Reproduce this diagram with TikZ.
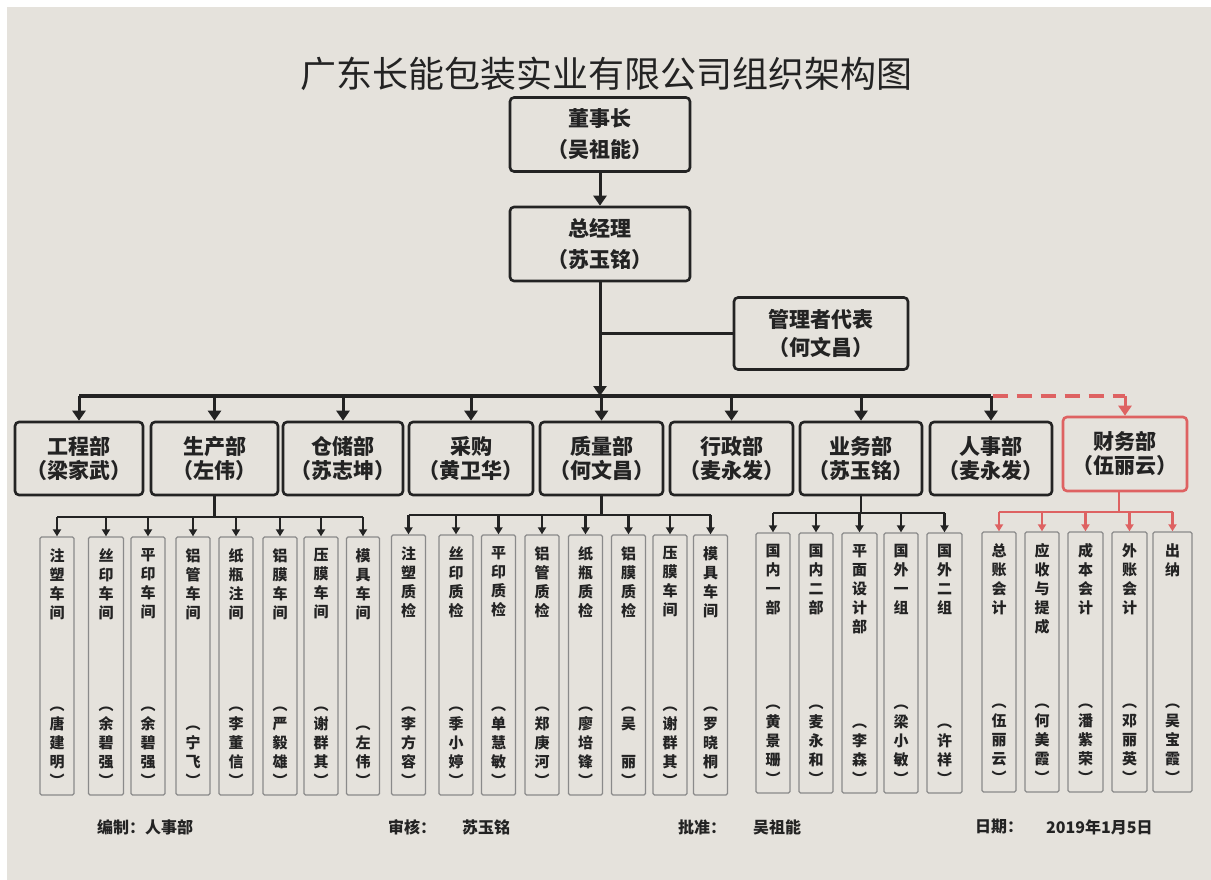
\documentclass[tikz,border=0pt]{standalone}
\usepackage{fontspec}
\setmainfont{Noto Sans CJK SC}
\usetikzlibrary{arrows.meta}
\definecolor{paper}{RGB}{229,226,220}
\definecolor{redc}{RGB}{222,98,98}
\definecolor{colgray}{RGB}{138,138,138}
\definecolor{ink}{RGB}{35,35,35}
\tikzset{
  topbox/.style={draw=ink, line width=2.6pt, rounded corners=4pt, align=center,
    font=\fontsize{21}{31}\selectfont\bfseries, inner sep=0pt, text=ink},
  deptbox/.style={topbox, minimum height=73pt, font=\fontsize{21}{24}\selectfont\bfseries},
  colbox/.style={draw=colgray, line width=1.3pt, rounded corners=1.5pt, inner sep=0pt},
  coltxt/.style={align=center, font=\fontsize{15}{19}\selectfont\bfseries, inner sep=0pt, text=ink},
  bigarr/.style={draw=ink, line width=3pt, -{Triangle[length=10pt,width=13pt]}},
  busline/.style={draw=ink, line width=3.4pt},
  subline/.style={draw=ink, line width=2.2pt},
  smallarr/.style={draw=ink, line width=2.2pt, -{Triangle[length=7pt,width=8pt]}},
  redsub/.style={draw=redc, line width=2.2pt},
  redsmall/.style={draw=redc, line width=2.2pt, -{Triangle[length=7pt,width=8pt]}},
  reddash/.style={draw=redc, line width=3.4pt, dash pattern=on 15pt off 9pt},
  redarr/.style={draw=redc, line width=3pt, -{Triangle[length=10pt,width=13pt]}},
  foot/.style={anchor=west, font=\fontsize{16}{16}\selectfont\bfseries, inner sep=0pt, text=ink}
}
% name, x, top, bottom, width, label, person
\newcommand\mkcol[7]{%
  \node[colbox, minimum width=#5pt, minimum height={(#4-#3)*1pt}] (#1) at (#2,{(#3+#4)/2}) {};
  \node[coltxt, anchor=north] at ([yshift=-12pt]#1.north) {#6};
  \node[coltxt, anchor=south] at ([yshift=9pt]#1.south) {#7};
}
\begin{document}
\begin{tikzpicture}[x=1pt,y=-1pt]
\useasboundingbox (0,0) rectangle (1211,880);
\fill[white] (0,0) rectangle (1211,880);
\fill[paper] (7,7) rectangle (1211,880);

% title
\node[font=\fontsize{36}{36}\selectfont, text=ink, inner sep=0pt] (title) at (606,74) {广东长能包装实业有限公司组织架构图};

% top
\node[topbox, minimum width=180pt, minimum height=74pt] (chair) at (600,134.5) {董事长\\（吴祖能）};
\node[topbox, minimum width=180pt, minimum height=74pt] (gm) at (600,244) {总经理\\（苏玉铭）};
\node[topbox, minimum width=174pt, minimum height=72pt, font=\fontsize{21}{28}\selectfont\bfseries] (rep) at (821,333.5) {管理者代表\\（何文昌）};

\draw[bigarr] (chair.south) -- (gm.north);
\coordinate (bus) at (600,396);
\draw[bigarr] (gm.south) -- (gm.south |- bus);
\draw[draw=ink, line width=3pt] (rep.west) -- (rep.west -| gm.south);

% departments
\node[deptbox, minimum width=128pt] (eng)  at (79,458.5)   {工程部\\（梁家武）};
\node[deptbox, minimum width=127pt] (prod) at (214.5,458.5) {生产部\\（左伟）};
\node[deptbox, minimum width=120pt] (stor) at (343,458.5)  {仓储部\\（苏志坤）};
\node[deptbox, minimum width=124pt] (buy)  at (471,458.5)  {采购\\（黄卫华）};
\node[deptbox, minimum width=123pt] (qual) at (601.5,458.5) {质量部\\（何文昌）};
\node[deptbox, minimum width=123pt] (adm)  at (731.5,458.5) {行政部\\（麦永发）};
\node[deptbox, minimum width=122pt] (biz)  at (861,458.5)  {业务部\\（苏玉铭）};
\node[deptbox, minimum width=122pt] (hr)   at (991,458.5)  {人事部\\（麦永发）};
\node[deptbox, draw=redc, minimum width=124pt, minimum height=74pt] (fin) at (1125,454) {财务部\\（伍丽云）};

\draw[busline] (eng.north |- bus) -- (hr.north |- bus);
\foreach \d in {eng,prod,stor,buy,qual,adm,biz,hr}
  \draw[bigarr] (\d.north |- bus) -- (\d.north);
\draw[reddash] ([xshift=1.7pt]hr.north |- bus) -- (fin.north |- bus);
\draw[redarr] (fin.north |- bus) -- (fin.north);

% production columns
\mkcol{p1}{57}{537}{795}{34}{注\\塑\\车\\间}{︵\\唐\\建\\明\\︶}
\mkcol{p2}{106}{537}{795}{35}{丝\\印\\车\\间}{︵\\余\\碧\\强\\︶}
\mkcol{p3}{148}{537}{795}{34}{平\\印\\车\\间}{︵\\余\\碧\\强\\︶}
\mkcol{p4}{193}{537}{795}{34}{铝\\管\\车\\间}{︵\\宁\\飞\\︶}
\mkcol{p5}{236}{537}{795}{34}{纸\\瓶\\注\\间}{︵\\李\\董\\信\\︶}
\mkcol{p6}{280}{537}{795}{34}{铝\\膜\\车\\间}{︵\\严\\毅\\雄\\︶}
\mkcol{p7}{321}{537}{795}{34}{压\\膜\\车\\间}{︵\\谢\\群\\其\\︶}
\mkcol{p8}{363}{537}{795}{33}{模\\具\\车\\间}{︵\\左\\伟\\︶}
\coordinate (pbus) at (215,517);
\draw[subline] (prod.south) -- (prod.south |- pbus);
\draw[subline] (p1.north |- pbus) -- (p8.north |- pbus);
\foreach \i in {1,...,8} \draw[smallarr] (p\i.north |- pbus) -- (p\i.north);

% quality columns
\mkcol{q1}{408.5}{535}{795}{34}{注\\塑\\质\\检}{︵\\李\\方\\容\\︶}
\mkcol{q2}{456}{535}{795}{34}{丝\\印\\质\\检}{︵\\季\\小\\婷\\︶}
\mkcol{q3}{498.5}{535}{795}{34}{平\\印\\质\\检}{︵\\单\\慧\\敏\\︶}
\mkcol{q4}{542}{535}{795}{34}{铝\\管\\质\\检}{︵\\郑\\庚\\河\\︶}
\mkcol{q5}{585.5}{535}{795}{34}{纸\\瓶\\质\\检}{︵\\廖\\培\\锋\\︶}
\mkcol{q6}{628.5}{535}{795}{34}{铝\\膜\\质\\检}{︵\\吴\\\phantom{吴}\\丽\\︶}
\mkcol{q7}{670}{535}{795}{34}{压\\膜\\车\\间}{︵\\谢\\群\\其\\︶}
\mkcol{q8}{710.5}{535}{795}{34}{模\\具\\车\\间}{︵\\罗\\晓\\桐\\︶}
\coordinate (qbus) at (601,515);
\draw[subline] (qual.south) -- (qual.south |- qbus);
\draw[subline] (q1.north |- qbus) -- (q8.north |- qbus);
\foreach \i in {1,...,8} \draw[smallarr] (q\i.north |- qbus) -- (q\i.north);

% business columns
\mkcol{s1}{773}{533}{793}{34}{国\\内\\一\\部}{︵\\黄\\景\\珊\\︶}
\mkcol{s2}{816}{533}{793}{34}{国\\内\\二\\部}{︵\\麦\\永\\和\\︶}
\mkcol{s3}{859.5}{533}{793}{35}{平\\面\\设\\计\\部}{︵\\李\\森\\︶}
\mkcol{s4}{901}{533}{793}{34}{国\\外\\一\\组}{︵\\梁\\小\\敏\\︶}
\mkcol{s5}{944.5}{533}{793}{35}{国\\外\\二\\组}{︵\\许\\祥\\︶}
\coordinate (sbus) at (858,513);
\draw[subline] (biz.south) -- (biz.south |- sbus);
\draw[subline] (s1.north |- sbus) -- (s5.north |- sbus);
\foreach \i in {1,...,5} \draw[smallarr] (s\i.north |- sbus) -- (s\i.north);

% finance columns
\mkcol{f1}{999}{532}{792}{34}{总\\账\\会\\计}{︵\\伍\\丽\\云\\︶}
\mkcol{f2}{1042}{532}{792}{34}{应\\收\\与\\提\\成}{︵\\何\\美\\霞\\︶}
\mkcol{f3}{1085.5}{532}{792}{35}{成\\本\\会\\计}{︵\\潘\\紫\\荣\\︶}
\mkcol{f4}{1129.5}{532}{792}{35}{外\\账\\会\\计}{︵\\邓\\丽\\英\\︶}
\mkcol{f5}{1172.5}{532}{792}{39}{出\\纳}{︵\\吴\\宝\\霞\\︶}
\coordinate (fbus) at (1119,512);
\draw[redsub] ([xshift=-6pt]fin.south) -- ([xshift=-6pt]fin.south |- fbus);
\draw[redsub] (f1.north |- fbus) -- (f5.north |- fbus);
\foreach \i in {1,...,5} \draw[redsmall] (f\i.north |- fbus) -- (f\i.north);

% footer
\node[foot] (ft1) at (97,827) {编制：人事部};
\node[foot] (ft2) at (388,827) {审核：};
\node[foot] (ft3) at (462,827) {苏玉铭};
\node[foot] (ft4) at (678,827) {批准：};
\node[foot] (ft5) at (753,827) {吴祖能};
\node[foot] (ft6) at (975,827) {日期：};
\node[foot] (ft7) at (1046,827) {2019年1月5日};
\end{tikzpicture}
\end{document}
